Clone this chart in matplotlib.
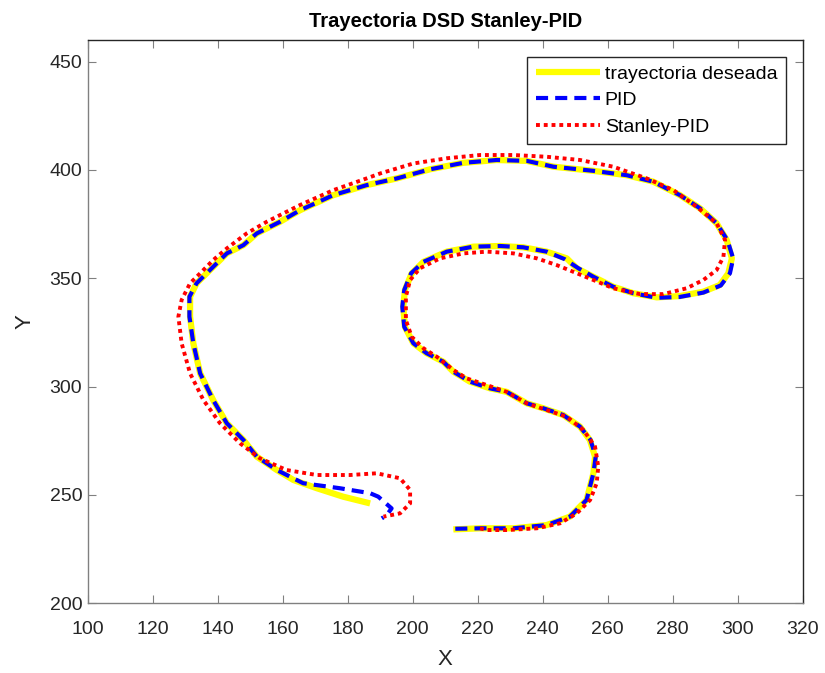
import matplotlib.pyplot as plt

plt.rcParams['font.family'] = ['Liberation Sans', 'DejaVu Sans']

# trayectoria deseada
x_ref = [212.5, 220.7, 231.0, 241.2, 248.4, 253.5, 255.6, 256.1, 254.5, 251.5,
         246.3, 240.2, 235.1, 228.9, 223.8, 217.6, 212.5, 209.4, 204.3, 200.2,
         197.6, 197.1, 197.6, 199.7, 203.3, 210.5, 218.6, 226.9, 234.0, 241.2,
         247.4, 250.5, 255.6, 261.7, 267.9, 275.1, 282.2, 289.4, 294.5, 297.1,
         298.2, 296.6, 293.5, 288.4, 282.2, 274.0, 265.8, 255.6, 243.3, 235.1,
         225.8, 215.6, 205.3, 195.1, 185.8, 175.6, 165.3, 159.2, 152.0, 147.9,
         142.8, 137.6, 133.5, 131.5, 131.5, 132.5, 134.6, 138.6, 142.8, 147.9,
         152.0, 158.2, 163.3, 170.5, 178.6, 186.9]
y_ref = [234.1, 234.6, 234.6, 236.1, 240.0, 247.7, 260.0, 267.7, 275.4, 281.5,
         286.9, 290.0, 292.3, 297.6, 299.2, 302.3, 306.9, 311.5, 315.4, 320.0,
         327.6, 336.9, 344.6, 352.3, 357.6, 362.3, 364.6, 364.9, 364.3, 362.3,
         359.2, 354.6, 350.7, 346.1, 343.1, 341.2, 341.8, 343.8, 346.9, 352.3,
         359.2, 367.7, 375.4, 382.3, 388.4, 394.6, 397.6, 399.6, 401.5, 404.2,
         404.6, 403.3, 400.3, 396.1, 393.0, 388.4, 381.4, 376.1, 370.7, 365.3,
         361.5, 353.8, 347.7, 341.5, 332.3, 320.0, 306.1, 293.8, 283.1, 275.4,
         267.7, 261.5, 256.9, 253.1, 249.2, 246.1]

# PID
x_pid = [213.1, 220.7, 231.0, 241.2, 248.4, 253.5, 255.6, 256.3, 254.7, 251.5,
         246.3, 240.2, 235.1, 228.9, 223.8, 217.6, 212.5, 209.4, 204.3, 200.2,
         197.4, 196.8, 197.4, 199.5, 203.3, 210.5, 218.6, 226.9, 234.0, 241.2,
         246.8, 251.0, 255.6, 261.7, 267.9, 275.1, 282.2, 289.4, 294.8, 297.6,
         298.6, 296.8, 293.5, 288.4, 282.2, 274.0, 265.8, 255.6, 243.3, 235.1,
         225.8, 215.6, 205.3, 195.1, 185.8, 175.6, 165.3, 159.2, 152.0, 147.9,
         142.8, 137.6, 133.5, 131.3, 131.3, 132.5, 134.6, 138.6, 142.8, 147.9,
         152.0, 158.2, 166.3, 177.6, 186.9, 189.4, 193.5, 192.0, 190.5]
y_pid = [234.4, 234.6, 234.6, 236.1, 240.0, 247.7, 260.0, 267.7, 275.4, 281.5,
         286.9, 290.0, 292.3, 297.6, 299.2, 302.3, 306.9, 311.5, 315.4, 320.0,
         327.6, 336.9, 344.6, 352.3, 357.6, 362.3, 364.6, 364.9, 364.3, 362.3,
         358.8, 354.6, 350.7, 346.1, 343.1, 341.0, 341.4, 343.4, 346.7, 352.3,
         359.2, 367.7, 375.4, 382.3, 388.4, 394.6, 397.6, 399.6, 401.5, 404.2,
         404.6, 403.3, 400.3, 396.1, 393.0, 388.4, 381.4, 376.1, 370.7, 365.3,
         361.5, 353.8, 347.7, 341.5, 332.3, 320.0, 306.1, 293.8, 283.1, 275.4,
         267.7, 261.5, 255.4, 253.1, 250.8, 249.2, 243.8, 240.7, 239.2]

# Stanley-PID
x_stn = [220.7, 222.8, 228.9, 238.2, 245.3, 250.5, 254.6, 256.6, 257.1, 256.1,
         252.5, 247.4, 241.2, 235.1, 228.9, 222.8, 216.6, 212.5, 207.4, 203.3,
         199.7, 197.9, 197.9, 199.2, 202.2, 208.4, 215.6, 222.8, 231.0, 238.2,
         244.3, 249.4, 255.6, 261.7, 269.9, 277.1, 284.3, 289.4, 293.5, 295.6,
         296.1, 293.5, 287.4, 280.2, 272.0, 261.7, 251.5, 241.2, 231.0, 220.7,
         210.5, 200.2, 190.0, 185.8, 175.6, 165.3, 155.1, 148.9, 142.8, 138.6,
         134.6, 131.5, 128.9, 127.9, 128.9, 131.5, 135.6, 140.7, 146.9, 153.0,
         161.2, 170.5, 180.7, 188.9, 196.1, 199.2, 199.2, 196.1, 191.0]
y_stn = [234.6, 233.8, 233.8, 234.6, 236.9, 241.5, 247.7, 255.4, 263.0, 272.3,
         280.0, 286.1, 289.2, 292.3, 297.6, 300.7, 303.8, 307.7, 313.8, 317.7,
         323.0, 330.7, 341.5, 349.2, 354.6, 359.2, 361.5, 362.3, 361.5, 359.2,
         356.1, 353.0, 349.2, 345.4, 342.7, 342.7, 345.4, 349.2, 353.8, 359.9,
         367.7, 375.4, 383.0, 390.7, 396.1, 401.5, 404.6, 406.1, 406.9, 406.9,
         405.4, 403.0, 398.4, 396.1, 390.7, 383.8, 376.1, 370.7, 363.8, 358.4,
         352.3, 347.7, 340.0, 332.3, 320.0, 306.1, 293.8, 283.1, 273.8, 266.9,
         261.5, 259.2, 259.2, 260.0, 257.7, 252.3, 246.1, 241.5, 240.0]

fig = plt.figure(figsize=(8.25, 6.73), dpi=100)
ax = fig.add_axes([0.1063, 0.1036, 0.8667, 0.837])

ax.plot(x_ref, y_ref, color='#ffff00', lw=4.5, solid_capstyle='butt',
        label='trayectoria deseada')
ax.plot(x_pid, y_pid, color='#0000ff', lw=3, dashes=(2.9, 1.7),
        dash_capstyle='butt', label='PID')
ax.plot(x_stn, y_stn, color='#ff0000', lw=2.8, dashes=(1, 1),
        dash_capstyle='butt', label='Stanley-PID')

ax.set_xlim(100, 320)
ax.set_ylim(200, 460)
ax.set_xticks(range(100, 321, 20))
ax.set_yticks(range(200, 451, 50))
ax.tick_params(direction='in', top=True, right=True, length=6,
               color='#808080', labelsize=14, labelcolor='#262626')
ax.tick_params(axis='x', pad=13)
ax.tick_params(axis='y', pad=4)
for s in ax.spines.values():
    s.set_color('#808080')
    s.set_linewidth(1)
ax.spines['top'].set_color('#262626')
ax.spines['right'].set_color('#262626')

ax.set_title('Trayectoria DSD Stanley-PID', fontsize=14.5, fontweight='bold',
             color='black', pad=9)
ax.set_xlabel('X', fontsize=16, color='#262626', labelpad=8)
ax.set_ylabel('Y', fontsize=16, color='#262626', labelpad=10)

leg = ax.legend(loc='upper right', fontsize=14, fancybox=False,
                framealpha=1, edgecolor='#262626', borderaxespad=0.85,
                handlelength=3.3, handletextpad=0.25, borderpad=0.45,
                labelspacing=0.45)
leg.get_frame().set_linewidth(1)

fig.savefig('out.png', dpi=100)
